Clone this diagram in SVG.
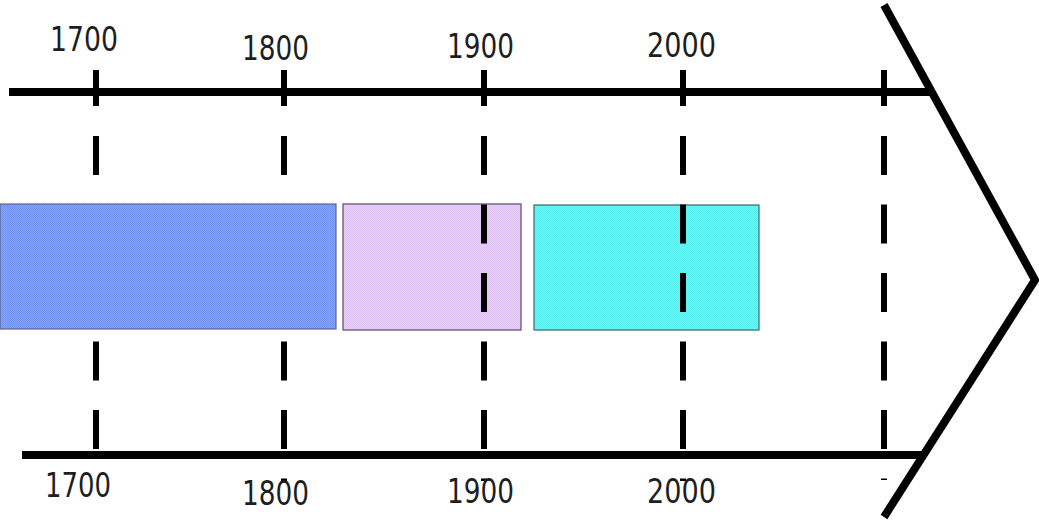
<svg xmlns="http://www.w3.org/2000/svg" width="1039" height="525" viewBox="0 0 1039 525">
<style>
.axis{stroke:#000;stroke-width:8;fill:none}
.tick{stroke:#000;stroke-width:6}
.dash{stroke:#000;stroke-width:6;stroke-dasharray:39 29.5}
.lbl{font-family:"DejaVu Sans",sans-serif;font-size:33px;fill:#1e1e1e}
.box{stroke-width:1.2}
</style>
<defs>
<pattern id="pb" width="2" height="2" patternUnits="userSpaceOnUse"><rect width="2" height="2" fill="#84a2ff"/><rect width="1" height="1" fill="#7191f4"/><rect x="1" y="1" width="1" height="1" fill="#7191f4"/></pattern>
<pattern id="pp" width="2" height="2" patternUnits="userSpaceOnUse"><rect width="2" height="2" fill="#ead0fc"/><rect width="1" height="1" fill="#dec0f2"/><rect x="1" y="1" width="1" height="1" fill="#dec0f2"/></pattern>
<pattern id="pc" width="2" height="2" patternUnits="userSpaceOnUse"><rect width="2" height="2" fill="#62fafa"/><rect width="1" height="1" fill="#55eded"/><rect x="1" y="1" width="1" height="1" fill="#55eded"/></pattern>
</defs>
<rect width="1039" height="525" fill="#fff"/>
<g id="era3"><rect class="box" x="534" y="205" width="225" height="125" fill="url(#pc)" stroke="#3a6a6a"/></g>
<g id="era2"><rect class="box" x="343" y="204" width="178" height="126" fill="url(#pp)" stroke="#5a4a66"/></g>
<g id="connectors">
<line class="axis" x1="9" y1="92" x2="932" y2="92"/>
<line class="axis" x1="22" y1="455" x2="924" y2="455"/>
<polyline class="axis" points="884,5 1035,280 884,517"/>
<line class="tick" x1="96" y1="70" x2="96" y2="106"/>
<line class="tick" x1="284" y1="70" x2="284" y2="106"/>
<line class="tick" x1="484" y1="70" x2="484" y2="106"/>
<line class="tick" x1="683" y1="70" x2="683" y2="106"/>
<line class="tick" x1="884" y1="70" x2="884" y2="106"/>
<line class="dash" x1="96" y1="136" x2="96" y2="452"/>
<line class="dash" x1="284" y1="136" x2="284" y2="481"/>
<line class="dash" x1="484" y1="136" x2="484" y2="481"/>
<line class="dash" x1="683" y1="136" x2="683" y2="481"/>
<line class="dash" x1="884" y1="136" x2="884" y2="480"/>
</g>
<g id="era1"><rect class="box" x="0" y="204" width="336" height="125" fill="url(#pb)" stroke="#5a6488"/></g>
<g id="labels-top">
<text class="lbl" x="50" y="51" textLength="68" lengthAdjust="spacingAndGlyphs">1700</text>
<text class="lbl" x="242" y="60" textLength="67" lengthAdjust="spacingAndGlyphs">1800</text>
<text class="lbl" x="447" y="58" textLength="67" lengthAdjust="spacingAndGlyphs">1900</text>
<text class="lbl" x="647" y="57" textLength="69" lengthAdjust="spacingAndGlyphs">2000</text>
</g>
<g id="labels-bottom">
<text class="lbl" x="45" y="497" textLength="66" lengthAdjust="spacingAndGlyphs">1700</text>
<text class="lbl" x="242" y="505" textLength="67" lengthAdjust="spacingAndGlyphs">1800</text>
<text class="lbl" x="447" y="503" textLength="67" lengthAdjust="spacingAndGlyphs">1900</text>
<text class="lbl" x="647" y="503" textLength="69" lengthAdjust="spacingAndGlyphs">2000</text>
</g>
</svg>
